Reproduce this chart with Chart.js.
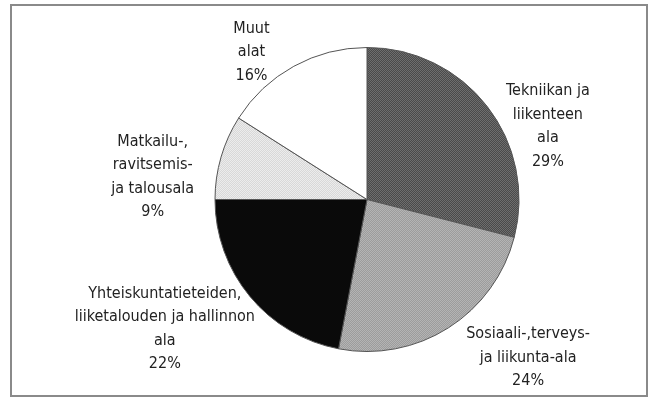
<!DOCTYPE html>
<html>
<head>
<meta charset="utf-8">
<script src="https://cdn.jsdelivr.net/npm/chart.js@4.4.1/dist/chart.umd.min.js"></script>
<style>
  body { margin: 0; background: #fff; }
  canvas { display: block; }
</style>
</head>
<body>
<canvas id="graphi" width="655" height="400"></canvas>
<script>
// Datos del gráfico (orden de las porciones, en sentido horario desde arriba)
const categorias = [
    ["Tekniikan ja", "liikenteen", "ala"],
    ["Sosiaali-,terveys-", "ja liikunta-ala"],
    ["Yhteiskuntatieteiden,", "liiketalouden ja hallinnon", "ala"],
    ["Matkailu-,", "ravitsemis-", "ja talousala"],
    ["Muut", "alat"]
];
const valores = [29, 24, 22, 9, 16];

// Posición de cada etiqueta respecto al centro, en radios
const etiquetaPos = [[1.19, -0.48], [1.06, 1.04], [-1.33, 0.85], [-1.41, -0.15], [-0.76, -0.97]];

// tramas punteadas como en el original
const trama = (c1, c2) => {
    const p = document.createElement('canvas');
    p.width = 2; p.height = 2;
    const g = p.getContext('2d');
    g.fillStyle = c1; g.fillRect(0, 0, 2, 2);
    g.fillStyle = c2; g.fillRect(0, 0, 1, 1); g.fillRect(1, 1, 1, 1);
    return g.createPattern(p, 'repeat');
};
const ctxTmp = document.getElementById('graphi').getContext('2d');
const colores = [
    trama('#4a4a4a', '#6e6e6e'),
    trama('#9c9c9c', '#b4b4b4'),
    '#0a0a0a',
    trama('#d8d8d8', '#ececec'),
    '#ffffff'
];

const fuente = "'Liberation Sans Narrow', 'DejaVu Sans Condensed', sans-serif";

const marco = {
    id: 'marco',
    beforeDraw(chart) {
        const c = chart.ctx;
        c.save();
        c.fillStyle = '#fff';
        c.fillRect(0, 0, chart.width, chart.height);
        c.strokeStyle = '#8a8a8a';
        c.lineWidth = 2;
        c.strokeRect(11, 5, 636, 391);
        c.restore();
    }
};

const etiquetas = {
    id: 'etiquetas',
    afterDraw(chart) {
        const c = chart.ctx;
        const arcs = chart.getDatasetMeta(0).data;
        c.save();
        c.font = '16px ' + fuente;
        c.fillStyle = '#222';
        c.textAlign = 'center';
        c.textBaseline = 'middle';
        const lh = 23.5;
        arcs.forEach((arc, i) => {
            const r = arc.outerRadius;
            const lineas = categorias[i].concat([valores[i] + '%']);
            const cx = arc.x + etiquetaPos[i][0] * r;
            const cy = arc.y + etiquetaPos[i][1] * r;
            const y0 = cy - (lineas.length - 1) * lh / 2;
            lineas.forEach((t, j) => c.fillText(t, cx, y0 + j * lh));
        });
        c.restore();
    }
};

const data = {
    labels: categorias.map(l => l.join(' ')),
    datasets: [{
        data: valores,
        backgroundColor: colores,
        borderColor: '#555',
        borderWidth: 1
    }]
};

const options = {
    responsive: false,
    animation: false,
    layout: { padding: { left: 79, right: 0, top: 47, bottom: 48 } },
    plugins: {
        legend: { display: false },
        tooltip: { enabled: false }
    }
};

new Chart('graphi', { type: 'pie', data, options, plugins: [marco, etiquetas] });
</script>
</body>
</html>
